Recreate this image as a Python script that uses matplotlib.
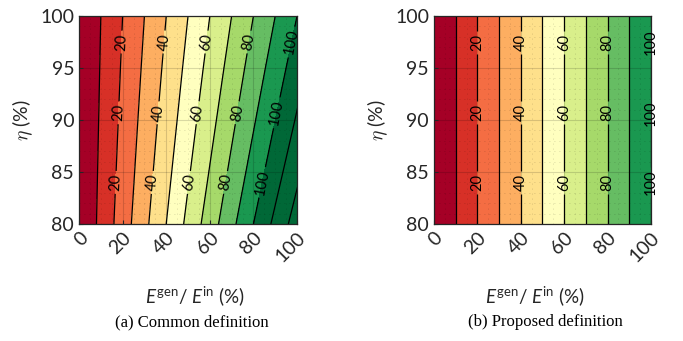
import matplotlib
matplotlib.use("Agg")
import matplotlib.pyplot as plt
from matplotlib.colors import ListedColormap, BoundaryNorm
from matplotlib.ticker import MultipleLocator

# E_gen / E_in (%) sample points and efficiency eta (%)
ratio_pts = [0, 100, 105]
eta_pts = [80, 85, 90, 95, 100]

# indicator value (%) on the (eta, ratio) grid, rows follow eta_pts
common_vals = [
    [0, 125.0, 131.3],
    [0, 117.6, 123.5],
    [0, 111.1, 116.7],
    [0, 105.3, 110.5],
    [0, 100.0, 105.0],
]
proposed_vals = [
    [0, 100, 105],
    [0, 100, 105],
    [0, 100, 105],
    [0, 100, 105],
    [0, 100, 105],
]

fill_levels = [0, 10, 20, 30, 40, 50, 60, 70, 80, 90, 100, 140]
line_levels = [10, 20, 30, 40, 50, 60, 70, 80, 90, 100, 110, 120]
label_levels = [20, 40, 60, 80, 100]
label_eta = [97.5, 90.7, 84.0]
band_colors = ["#a50026", "#d73027", "#f46d43", "#fdae61", "#fee08b", "#ffffbf",
               "#d9ef8b", "#a6d96a", "#66bd63", "#1a9850", "#006837"]

x_ticks = [0, 20, 40, 60, 80, 100]
y_ticks = [80, 85, 90, 95, 100]
captions = ["(a) Common definition", "(b) Proposed definition"]

plt.rcParams["font.family"] = ["Lato", "DejaVu Sans"]
plt.rcParams["mathtext.fontset"] = "custom"
plt.rcParams["mathtext.it"] = "Lato:italic"
plt.rcParams["mathtext.rm"] = "Lato"

cmap = ListedColormap(band_colors)
norm = BoundaryNorm(fill_levels, cmap.N)
txt_col = "#262626"

fig = plt.figure(figsize=(6.83, 3.41), dpi=100)
ax_left = fig.add_axes([0.1157, 0.343, 0.3192, 0.61])
ax_right = fig.add_axes([0.6354, 0.343, 0.3177, 0.61])

plain_levels = [l for l in line_levels if l not in label_levels]

panels = [(ax_left, common_vals, captions[0], True, 0.532, 192),
          (ax_right, proposed_vals, captions[1], False, 0.465, 545)]

for ax, vals, cap, slanted, xlab_pos, cap_px in panels:
    ax.contourf(ratio_pts, eta_pts, vals, levels=fill_levels, cmap=cmap, norm=norm)
    ax.contour(ratio_pts, eta_pts, vals, levels=plain_levels, colors="k", linewidths=0.9)
    cs = ax.contour(ratio_pts, eta_pts, vals, levels=label_levels, colors="k", linewidths=0.9)
    # label spots: near each labelled line at three heights
    spots = []
    for lev in label_levels:
        for e in label_eta:
            spots.append((lev * e / 100 if slanted else lev, e))
    labels = ax.clabel(cs, manual=spots, fmt="%d", fontsize=10.5,
                       inline=True, inline_spacing=3, colors="k")
    for t in labels:
        t.set_clip_on(False)
        t.set_rotation(t.get_rotation() % 180)

    ax.set_xlim(0, 100)
    ax.set_ylim(80, 100)
    ax.set_xticks(x_ticks)
    ax.set_yticks(y_ticks)
    ax.set_xticklabels([str(t) for t in x_ticks], rotation=45, ha="right", va="top",
                       rotation_mode="anchor")
    ax.xaxis.set_minor_locator(MultipleLocator(5))
    ax.yaxis.set_minor_locator(MultipleLocator(1))
    ax.tick_params(which="major", direction="in", length=3, labelsize=14,
                   colors=txt_col, width=0.8)
    ax.tick_params(which="minor", length=0)
    ax.grid(True, which="major", color="k", alpha=0.15, lw=0.8)
    ax.grid(True, which="minor", color="k", alpha=0.2, lw=0.6, linestyle=(0, (1, 5)))
    for sp in ax.spines.values():
        sp.set_color(txt_col)
        sp.set_linewidth(0.9)

    ax.set_ylabel(r"$\eta$ (%)", fontsize=14, color=txt_col, math_fontfamily="cm", labelpad=4)
    ax.set_xlabel(r"$E^{\mathrm{gen}}$/ $E^{\mathrm{in}}$ (%)", fontsize=13.5, color=txt_col)
    ax.xaxis.set_label_coords(xlab_pos, -0.29)
    fig.text(cap_px / 683, 1 - 322 / 341, cap, ha="center", va="center",
             fontsize=12, family="Liberation Serif", color="k")

fig.savefig("out.png", dpi=100)
